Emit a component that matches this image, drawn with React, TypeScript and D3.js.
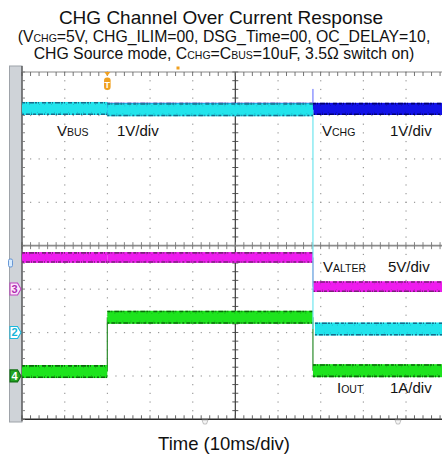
import React from 'react';
import * as d3 from 'd3';

const FONT = '"Liberation Sans", Arial, Helvetica, sans-serif';

// Horizontal: 10 ms/div, 10 divisions, 0 ms at the centre graticule line
const timeDomain = [-50, 50];
// Switching instants (ms): window start, load step, over-current trip, window end
const stepTimes = [-50, -30, 18.2, 50];

// Trace levels, one per interval between stepTimes
const vchgLevels = [5.15, 5.15, 5.15]; // V
const vbusLevels = [5.16, 5.13, 0.08]; // V
const valterLevels = [3.64, 3.64, 0.28]; // V
const ioutLevels = [0.1, 1.35, 0.12]; // A
const vchgTripPeak = 5.61; // V, overshoot when the switch opens

// Ripple half-amplitude in channel units
const vchgRipple = 0.14;
const vbusRipple = 0.15;
const valterRipple = 0.62;
const ioutRipple = 0.15;

// Channel vertical settings: [VCHG, VBUS, VALTER, IOUT]
const unitsPerDiv = [1, 1, 5, 1];
const groundDiv = [-2, -2, -1, -3];

const W = 442;
const H = 460;
const X0 = 22;
const DIVW = 42.66;
const Y0 = 72;
const Y1 = 419.3;

const xScale = d3.scaleLinear().domain(timeDomain).range([X0, X0 + DIVW * 10]);
const yScale = d3.scaleLinear().domain([4, -4]).range([Y0, Y1]);
const yOf = (v: number, ch: number) => yScale(v / unitsPerDiv[ch] + groundDiv[ch]);

type TraceProps = {
  levels: number[];
  ripple: number;
  ch: number;
  fill: string;
  edge: string;
  step: string;
  startGap?: number[];
};

function Trace({ levels, ripple, ch, fill, edge, step, startGap }: TraceProps) {
  const segs = levels.map((lv, i) => {
    const xa = xScale(stepTimes[i]) + (startGap ? startGap[i] : 0);
    const xb = xScale(stepTimes[i + 1]);
    const yt = yOf(lv + ripple, ch);
    const yb = yOf(lv - ripple, ch);
    return { xa, xb, yt, yb, i };
  });
  return (
    <g>
      {levels.slice(1).map((lv, k) => {
        const prev = levels[k];
        if (Math.abs(prev - lv) < 1e-6) return null;
        const xt = xScale(stepTimes[k + 1]);
        return (
          <line key={'s' + k} x1={xt} x2={xt} y1={yOf(prev, ch)} y2={yOf(lv, ch)} stroke={step} strokeWidth={1.2} />
        );
      })}
      {segs.map((s) => (
        <g key={s.i}>
          <rect x={s.xa} y={s.yt} width={s.xb - s.xa} height={s.yb - s.yt} fill={fill} />
          <line x1={s.xa} x2={s.xb} y1={s.yt + 0.8} y2={s.yt + 0.8} stroke={edge} strokeWidth={1.6}
            strokeDasharray="3 1 1 2 5 1 2 1 1 3 4 2" />
          <line x1={s.xa} x2={s.xb} y1={s.yb - 0.8} y2={s.yb - 0.8} stroke={edge} strokeWidth={1.6}
            strokeDasharray="2 2 4 1 1 1 3 2 5 1 1 2" />
          <line x1={s.xa} x2={s.xb} y1={s.yt + 2.6} y2={s.yt + 2.6} stroke={edge} strokeWidth={0.8} opacity={0.35}
            strokeDasharray="1 6 1 9 1 4" />
          <line x1={s.xa} x2={s.xb} y1={s.yb - 2.6} y2={s.yb - 2.6} stroke={edge} strokeWidth={0.8} opacity={0.35}
            strokeDasharray="1 8 1 5 1 7" />
        </g>
      ))}
    </g>
  );
}

function Graticule() {
  const minor = d3.range(0, 10 * 5 + 1).map((k) => X0 + (k * DIVW) / 5);
  const minorY = d3.range(0, 8 * 5 + 1).map((k) => yScale(4 - k / 5));
  const xc = xScale(0);
  const yMid = yScale(0);
  const dotColor = '#9a9a9a';
  const hDivs = [3, 2, 1, -1, -2, -3];
  const vDivs = [1, 2, 3, 4, 6, 7, 8, 9];
  return (
    <g>
      {/* dotted division lines */}
      {hDivs.map((d) =>
        minor.map((xx, k) => (
          <rect key={`h${d}-${k}`} x={xx - 0.5} y={yScale(d) - 0.5} width={1.2} height={1.2} fill={dotColor} />
        ))
      )}
      {vDivs.map((j) =>
        minorY.map((yy, k) => (
          <rect key={`v${j}-${k}`} x={X0 + j * DIVW - 0.5} y={yy - 0.5} width={1.2} height={1.2} fill={dotColor} />
        ))
      )}
      {/* centre vertical axis */}
      <line x1={xc} x2={xc} y1={Y0} y2={Y1} stroke="#2a2a2a" strokeWidth={1.1} />
      {minorY.map((yy, k) => (
        <line key={`cv${k}`} x1={xc - 3} x2={xc + 3} y1={yy} y2={yy} stroke="#444" strokeWidth={0.9} />
      ))}
      {/* top border */}
      <line x1={X0} x2={W} y1={Y0} y2={Y0} stroke="#8a8a8a" strokeWidth={1.2} />
      {minor.map((xx, k) => (
        <line key={`tt${k}`} x1={xx} x2={xx} y1={Y0} y2={Y0 + 4} stroke="#666" strokeWidth={0.9} />
      ))}
      {/* middle separator */}
      <line x1={X0} x2={W} y1={yMid} y2={yMid} stroke="#8c8c8c" strokeWidth={1.8} />
      {minor.map((xx, k) => (
        <line key={`mt${k}`} x1={xx} x2={xx} y1={yMid - 3.5} y2={yMid + 3.5} stroke="#777" strokeWidth={0.9} />
      ))}
      {/* bottom border */}
      <line x1={X0} x2={W} y1={Y1} y2={Y1} stroke="#2a2a2a" strokeWidth={1.6} />
      {minor.map((xx, k) => (
        <line key={`bt${k}`} x1={xx} x2={xx} y1={Y1 - 4} y2={Y1} stroke="#555" strokeWidth={0.9} />
      ))}
      {/* left border */}
      <line x1={X0} x2={X0} y1={Y0 - 6} y2={Y1 + 2} stroke="#4a4a4a" strokeWidth={1.2} />
      {minorY.map((yy, k) => (
        <line key={`lt${k}`} x1={X0} x2={X0 + 3} y1={yy} y2={yy} stroke="#777" strokeWidth={0.9} />
      ))}
    </g>
  );
}

function ChannelTag({ y, label, fill, stroke, text }: { y: number; label: string; fill: string; stroke: string; text: string }) {
  const path = `M10,${y - 6} L17.5,${y - 6} L21,${y} L17.5,${y + 6} L10,${y + 6} Z`;
  return (
    <g>
      <path d={path} fill={fill} stroke={stroke} strokeWidth={1.1} />
      <text x={14.5} y={y + 4} textAnchor="middle" fontFamily={FONT} fontSize={11} fontWeight="bold" fill={text}>
        {label}
      </text>
    </g>
  );
}

function Label({ x, y, main, sub, scale }: { x: number; y: number; main: string; sub: string; scale: string; }) {
  return (
    <g fontFamily={FONT} fill="#111">
      <text x={x} y={y} fontSize={15}>
        {main}
        <tspan fontSize={10.5}>{sub}</tspan>
      </text>
    </g>
  );
}

export default function App() {
  const tTrig = xScale(stepTimes[1]);
  const tTrip = xScale(stepTimes[2]);
  return (
    <svg width={W} height={H} viewBox={`0 0 ${W} ${H}`}
      style={{ position: 'absolute', left: 0, top: 0, background: '#fff' }}>
      {/* title block */}
      <g fontFamily={FONT} fill="#111" textAnchor="middle">
        <text x={221} y={24} fontSize={19}>CHG Channel Over Current Response</text>
        <text x={224} y={41.5} fontSize={15.8}>
          (V<tspan fontSize={10.5}>CHG</tspan>=5V, CHG_ILIM=00, DSG_Time=00, OC_DELAY=10,
        </text>
        <text x={224} y={58.5} fontSize={15.8}>
          CHG Source mode, C<tspan fontSize={10.5}>CHG</tspan>=C<tspan fontSize={10.5}>BUS</tspan>=10uF, 3.5Ω switch on)
        </text>
      </g>

      {/* side bar */}
      <rect x={9.5} y={66} width={12.5} height={356} fill="#cfd3d8" stroke="#9ea3a9" strokeWidth={1} />

      <Graticule />

      {/* traces */}
      <Trace levels={vchgLevels} ripple={vchgRipple} ch={0} fill="#1212e8" edge="#000070" step="#3040ff" />
      <line x1={tTrip} x2={tTrip} y1={yOf(vchgLevels[2] + vchgRipple, 0)} y2={yOf(vchgTripPeak, 0)}
        stroke="#5a64ff" strokeWidth={1} />
      <Trace levels={valterLevels} ripple={valterRipple} ch={2} fill="#ee1cee" edge="#7a207a" step="#d040d0" />
      <Trace levels={ioutLevels} ripple={ioutRipple} ch={3} fill="#1ee41e" edge="#0b6a0b" step="#2a8a2a" />
      <Trace levels={vbusLevels} ripple={vbusRipple} ch={1} fill="#22e4ec" edge="#176c8c" step="#6fe6ee"
        startGap={[0, 0, 2]} />

      {/* trigger markers */}
      <path d={`M${tTrig - 3},${Y0} L${tTrig + 3},${Y0} L${tTrig},${Y0 + 4} Z`} fill="#f0a020" />
      <rect x={tTrig - 3.3} y={Y0 + 5.5} width={6.6} height={12.5} rx={3} fill="#f0a020" />
      <text x={tTrig} y={Y0 + 15.5} textAnchor="middle" fontFamily={FONT} fontSize={9} fontWeight="bold" fill="#fff">T</text>
      <rect x={176.5} y={66.5} width={3} height={3} fill="#f0a020" />

      {/* bottom position markers */}
      <path d="M202,420 L208,420 L206.5,424 L203.5,424 Z" fill="#f4f4f4" stroke="#aaa" strokeWidth={0.7} />
      <path d="M395,420 L401,420 L399.5,424 L396.5,424 Z" fill="#f4f4f4" stroke="#aaa" strokeWidth={0.7} />

      {/* channel ground tags */}
      <rect x={8.5} y={259} width={4} height={8} rx={1.5} fill="#d8ecff" stroke="#5b8fd2" strokeWidth={0.9} />
      <ChannelTag y={yScale(groundDiv[2])} label="3" fill="#fbe6fb" stroke="#c040c0" text="#b02cb0" />
      <ChannelTag y={yScale(groundDiv[1])} label="2" fill="#ffffff" stroke="#1cb8dc" text="#14b4d8" />
      <ChannelTag y={yScale(groundDiv[3])} label="4" fill="#22a422" stroke="#127012" text="#ffffff" />

      {/* channel annotations */}
      <g fontFamily={FONT} fill="#111" fontSize={15}>
        <text x={57} y={136}>V<tspan fontSize={10.5}>BUS</tspan></text>
        <text x={117} y={136}>1V/div</text>
        <text x={322} y={136}>V<tspan fontSize={10.5}>CHG</tspan></text>
        <text x={390} y={136}>1V/div</text>
        <text x={323} y={272}>V<tspan fontSize={10.5}>ALTER</tspan></text>
        <text x={388} y={272}>5V/div</text>
        <text x={337} y={393}>I<tspan fontSize={10.5}>OUT</tspan></text>
        <text x={390} y={393}>1A/div</text>
      </g>

      {/* time axis caption */}
      <text x={224} y={450} textAnchor="middle" fontFamily={FONT} fontSize={18.5} fill="#111">Time (10ms/div)</text>
    </svg>
  );
}
